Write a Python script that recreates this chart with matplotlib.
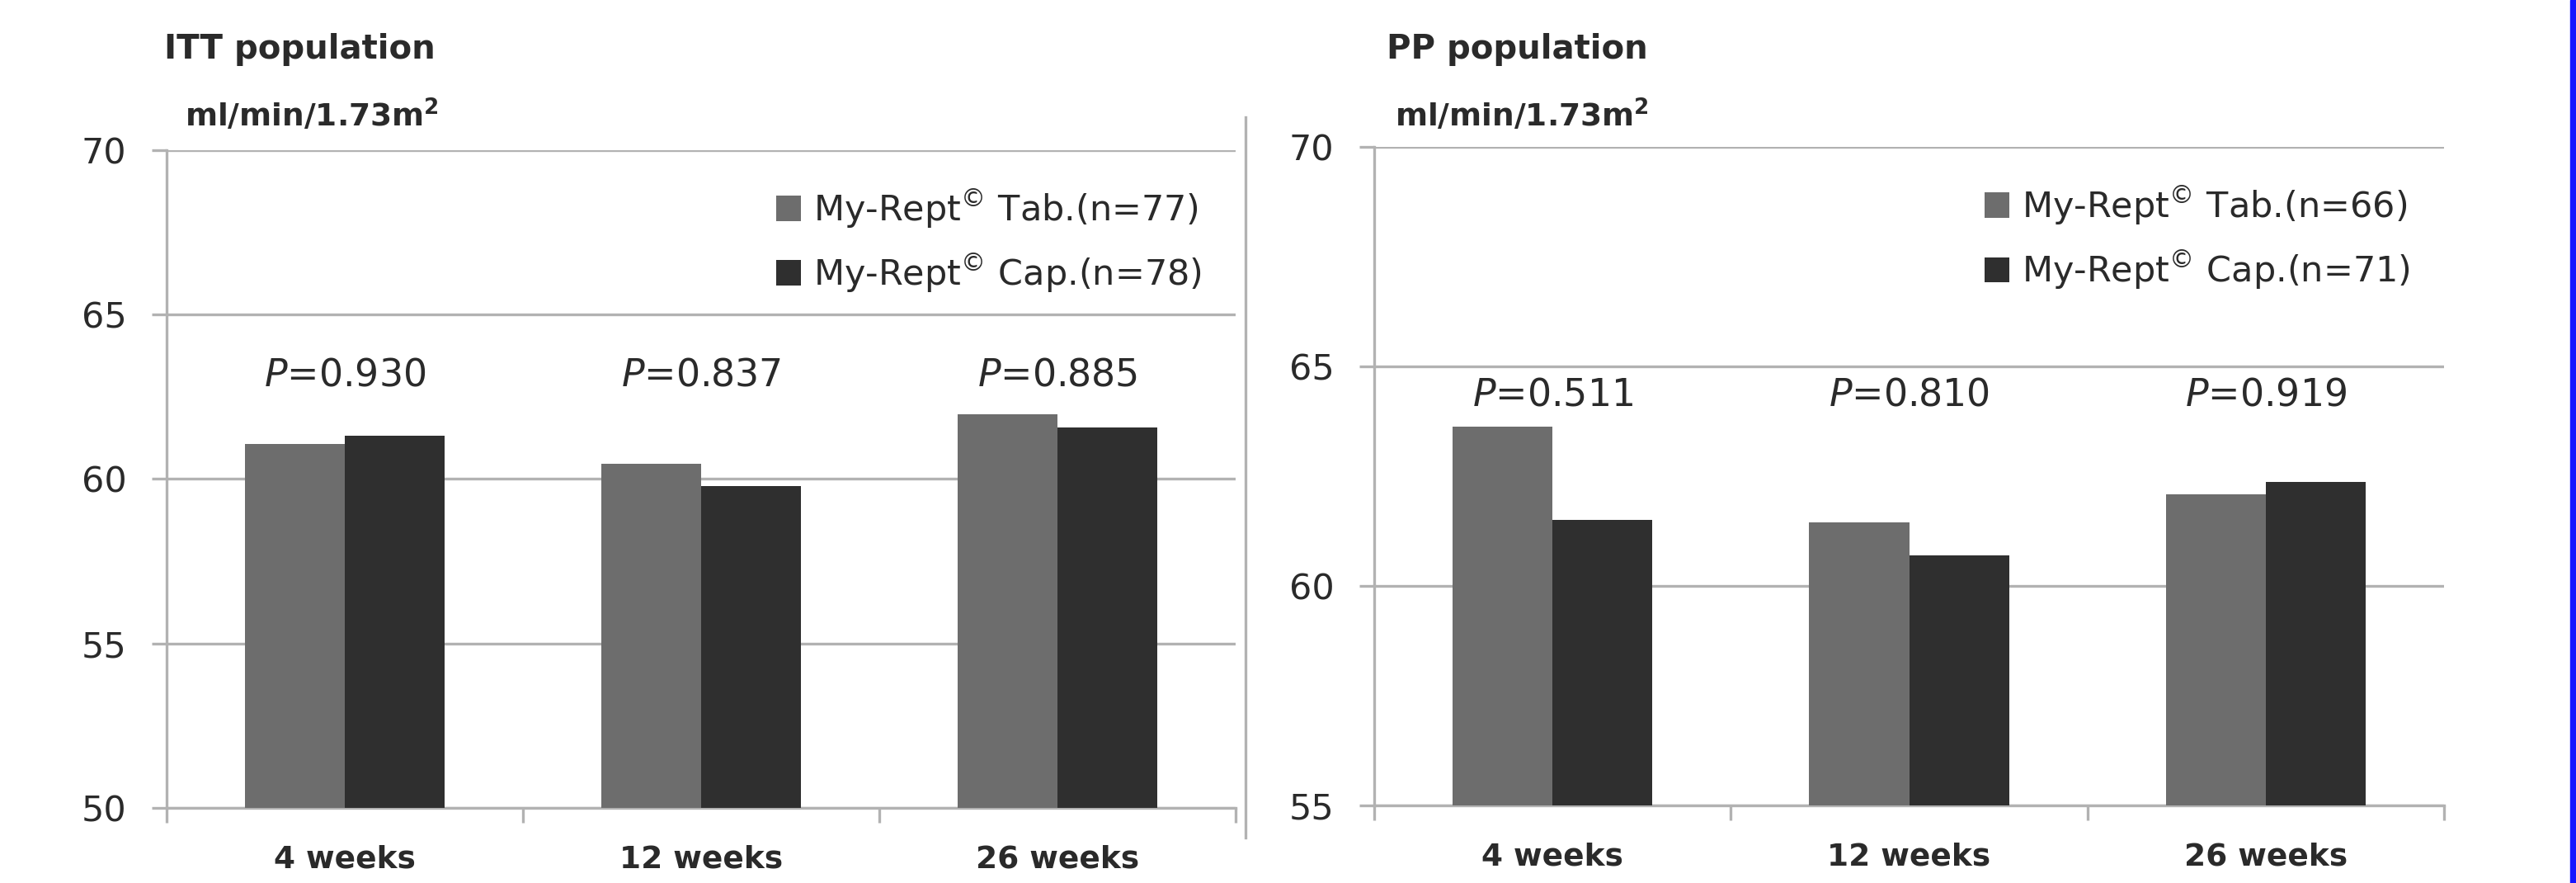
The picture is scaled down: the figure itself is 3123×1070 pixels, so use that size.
import matplotlib
matplotlib.use("Agg")
import matplotlib.pyplot as plt
import numpy as np
from matplotlib.patches import Rectangle
from matplotlib.lines import Line2D

# data (eGFR, ml/min/1.73m2)
weeks = ["4 weeks", "12 weeks", "26 weeks"]
itt_tab = [61.06, 60.47, 61.98]
itt_cap = [61.32, 59.79, 61.58]
pp_tab = [63.63, 61.45, 62.08]
pp_cap = [61.50, 60.70, 62.37]
itt_p = ["0.930", "0.837", "0.885"]
pp_p = ["0.511", "0.810", "0.919"]
itt_labels = ["My-Rept$^{\u00a9}$ Tab.(n=77)", "My-Rept$^{\u00a9}$ Cap.(n=78)"]
pp_labels = ["My-Rept$^{\u00a9}$ Tab.(n=66)", "My-Rept$^{\u00a9}$ Cap.(n=71)"]

TAB_C = "#6d6d6d"
CAP_C = "#2f2f2f"
GRID_C = "#b2b2b2"
TXT_C = "#2a2a2a"
W, H = 3123, 1070

plt.rcParams["font.family"] = ["DejaVu Sans"]
plt.rcParams["mathtext.fontset"] = "dejavusans"

fig = plt.figure(figsize=(W / 100, H / 100), dpi=100)
fig.patch.set_facecolor("white")


def panel(rect, tab, cap, pvals, labels, ylim, p_y, leg_x):
    ax = fig.add_axes(rect)
    x = np.arange(len(weeks))
    bw = 0.28
    ax.bar(x - bw / 2, tab, bw, color=TAB_C, label=labels[0], zorder=3)
    ax.bar(x + bw / 2, cap, bw, color=CAP_C, label=labels[1], zorder=3)
    ax.set_xlim(-0.5, len(weeks) - 0.5)
    ax.set_ylim(*ylim)
    ax.set_yticks(np.arange(ylim[0], ylim[1] + 1, 5))
    ax.yaxis.grid(True, color=GRID_C, lw=2.4, zorder=0)
    ax.set_axisbelow(True)
    for s in ["top", "right"]:
        ax.spines[s].set_visible(False)
    for s in ["left", "bottom"]:
        ax.spines[s].set_color(GRID_C)
        ax.spines[s].set_linewidth(2.4)
    ax.tick_params(axis="y", colors=GRID_C, length=13, width=2.4, pad=22,
                   labelsize=31, labelcolor=TXT_C)
    ax.set_xticks(x)
    ax.set_xticklabels(weeks, fontsize=27, fontweight="bold", color=TXT_C)
    ax.tick_params(axis="x", which="major", length=0, pad=32)
    ax.set_xticks(np.arange(-0.5, len(weeks)), minor=True)
    ax.tick_params(axis="x", which="minor", length=13, width=2.4, colors=GRID_C)
    for xi, p in zip(x, pvals):
        ax.text(xi, p_y, f"$P$={p}", ha="center", va="center", fontsize=33,
                color=TXT_C)
    ax.legend(loc="upper right", bbox_to_anchor=(leg_x, 0.97), frameon=False,
              fontsize=31, handlelength=0.7, handleheight=0.7,
              handletextpad=0.35, labelspacing=0.62, borderpad=0,
              labelcolor=TXT_C)
    return ax


panel([202 / W, 1 - 979 / H, 1296 / W, 797 / H], itt_tab, itt_cap, itt_p,
      itt_labels, (50, 70), 63.15, 0.985)
panel([1666 / W, 1 - 976 / H, 1297 / W, 798 / H], pp_tab, pp_cap, pp_p,
      pp_labels, (55, 70), 64.34, 0.985)

# panel titles and units
fig.text(199 / W, 1 - 71 / H, "ITT population", fontsize=29, fontweight="bold",
         color=TXT_C, va="baseline")
fig.text(1681 / W, 1 - 71 / H, "PP population", fontsize=29, fontweight="bold",
         color=TXT_C, va="baseline")
fig.text(224 / W, 1 - 154 / H, "ml/min/1.73m$^\\mathbf{2}$", fontsize=27,
         fontweight="bold", color=TXT_C, va="baseline")
fig.text(1691 / W, 1 - 154 / H, "ml/min/1.73m$^\\mathbf{2}$", fontsize=27,
         fontweight="bold", color=TXT_C, va="baseline")

# separator between the two panels
fig.add_artist(Line2D([1510 / W, 1510 / W], [1 - 1015 / H, 1 - 142 / H],
                      color=GRID_C, lw=2.4, transform=fig.transFigure))
# blue strip on the right edge
fig.add_artist(Rectangle((3116 / W, 0), 7 / W, 1, color="#1414ff",
                         transform=fig.transFigure))

fig.savefig("out.png", dpi=100, facecolor="white")
